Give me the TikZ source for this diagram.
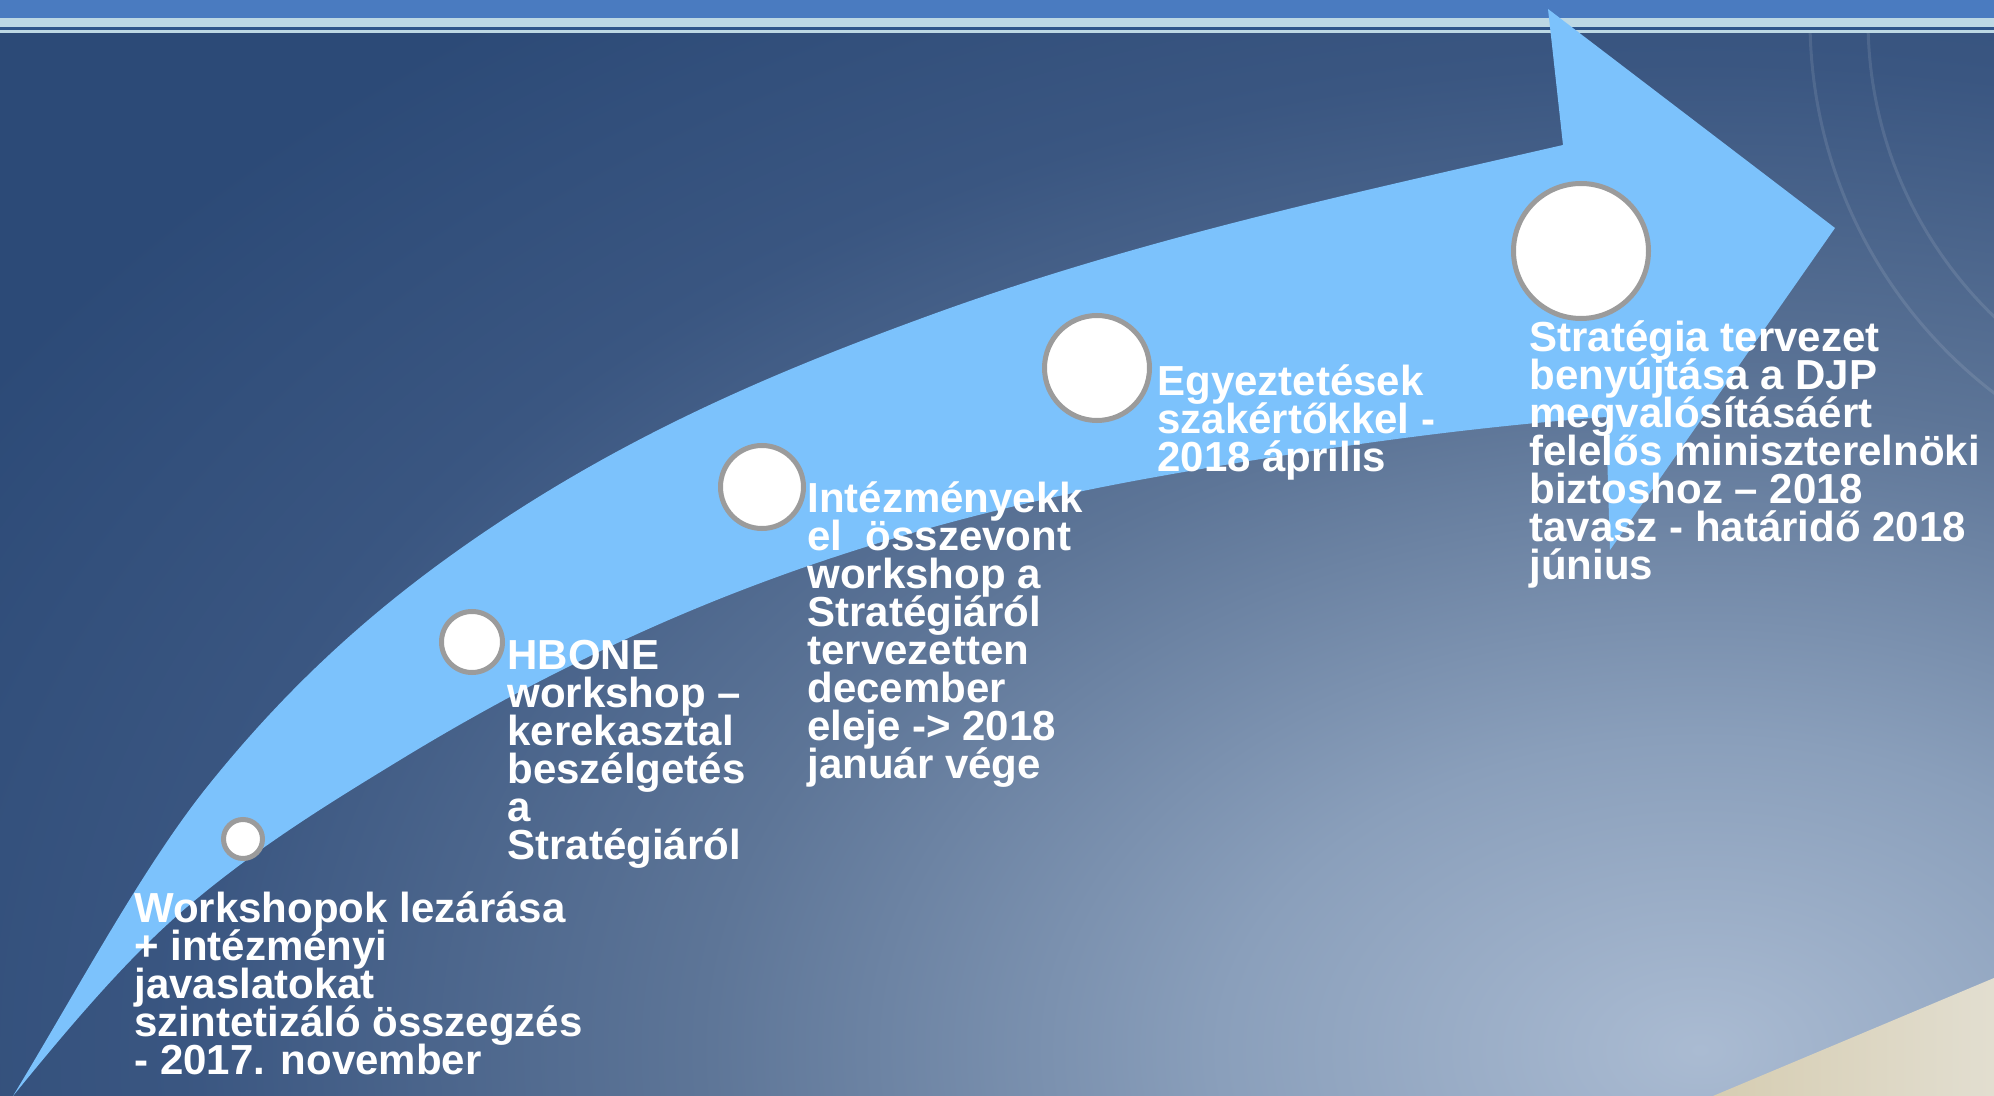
\documentclass[tikz,border=0pt]{standalone}
\usepackage{fontspec}
\setmainfont{Liberation Sans}
\definecolor{bandblue}{HTML}{4A7BC0}
\definecolor{bandlight}{HTML}{BDD8E4}
\definecolor{bandline}{HTML}{2F558A}
\definecolor{bgdeep}{HTML}{2C4A77}
\definecolor{glowA}{HTML}{AABBD2}
\definecolor{glowB}{HTML}{8A9FBB}
\definecolor{glowC}{HTML}{5D7597}
\definecolor{glowD}{HTML}{3A5681}
\definecolor{sandL}{HTML}{D6CDB2}
\definecolor{sandR}{HTML}{E2DED0}
\definecolor{arrowblue}{HTML}{7CC2FC}
\definecolor{dotgray}{HTML}{9B9B9B}
\pgfdeclareradialshading{backglow}{\pgfpoint{0bp}{0bp}}{color(0bp)=(glowA); color(6bp)=(glowB); color(12.5bp)=(glowC); color(19bp)=(glowD); color(25bp)=(bgdeep); color(50bp)=(bgdeep)}
% sorok egymás alatt, fix sortávolsággal
\newcommand{\stack}[1]{\vtop{\baselineskip=19pt\lineskiplimit=-\maxdimen\let\\=\cr\halign{##\hfil\cr#1\crcr}}}
\tikzset{
  milestone/.style={circle, fill=white, draw=dotgray, line width=2.5pt, inner sep=0pt}, % fehér kör
  steptext/.style={anchor=base west, inner sep=0pt, text=white, font=\fontsize{21}{19}\selectfont\bfseries}, % felirat
  faintarc/.style={draw=white, opacity=0.1, line width=1.5pt}
}
\begin{document}
\begin{tikzpicture}[x=0.5pt, y=-0.5pt]
\useasboundingbox (0,0) rectangle (1994,1096);

% háttér
\fill[bgdeep] (0,0) rectangle (1994,1096);
\begin{scope}
  \clip (0,0) rectangle (1994,1096);
  \shade[shading=backglow] (1700,1050) ellipse [x radius=2000, y radius=1300];
  \shade[left color=sandL, right color=sandR] (1713,1096) -- (1994,978) -- (1994,1096) -- cycle;
  \draw[faintarc] (2280,20) circle (470);
  \draw[faintarc] (2280,20) circle (412);
\end{scope}

% felső sáv
\fill[bandblue] (0,0) rectangle (1994,18);
\fill[bandlight] (0,18) rectangle (1994,27.5);
\fill[bandline] (0,27.5) rectangle (1994,30);
\fill[bandlight] (0,30) rectangle (1994,33.5);

% a nagy nyíl
\fill[arrowblue] (13,1096) .. controls (77.7,989.3) and (142.3,867.9) .. (207,787)
  .. controls (299,672) and (391,595.6) .. (483,533)
  .. controls (627.7,434.6) and (771.3,373.5) .. (917,320)
  .. controls (1132.3,240.3) and (1347.7,194.5) .. (1563,145)
  -- (1548,9) -- (1835,228) -- (1610,550) -- (1606,417)
  .. controls (1454,428.4) and (1302,450.6) .. (1150,478)
  .. controls (1016.7,502) and (883.3,536.3) .. (750,587)
  .. controls (633.3,631.3) and (516.7,688.8) .. (400,760)
  .. controls (329,803.3) and (258,846.7) .. (187,907)
  .. controls (129,956.3) and (71,1024.7) .. (13,1096) -- cycle;

% mérföldkövek
\node[milestone, minimum size=19.5pt] (c1) at (243,839) {};
\node[milestone, minimum size=30.5pt] (c2) at (472,642) {};
\node[milestone, minimum size=41.5pt] (c3) at (762,487) {};
\node[milestone, minimum size=52.5pt] (c4) at (1097,368) {};
\node[milestone, minimum size=67.5pt] (c5) at (1581,251) {};

% feliratok
\node[steptext] (t1) at (134,922) {\stack{Workshopok lezárása\\+ intézményi\\javaslatokat\\szintetizáló összegzés\\- 2017. november}};
\node[steptext] (t2) at (507,670) {\stack{HBONE\\workshop –\\kerekasztal\\beszélgetés\\a\\Stratégiáról}};
\node[steptext] (t3) at (807,513) {\stack{Intézményekk\\el\ \ összevont\\workshop a\\Stratégiáról\\tervezetten\\december\\eleje -> 2018\\január vége}};
\node[steptext] (t4) at (1157,396) {\stack{Egyeztetések\\szakértőkkel -\\2018 április}};
\node[steptext] (t5) at (1529,352) {\stack{Stratégia tervezet\\benyújtása a DJP\\megvalósításáért\\felelős miniszterelnöki\\biztoshoz – 2018\\tavasz - határidő 2018\\június}};
\end{tikzpicture}
\end{document}
